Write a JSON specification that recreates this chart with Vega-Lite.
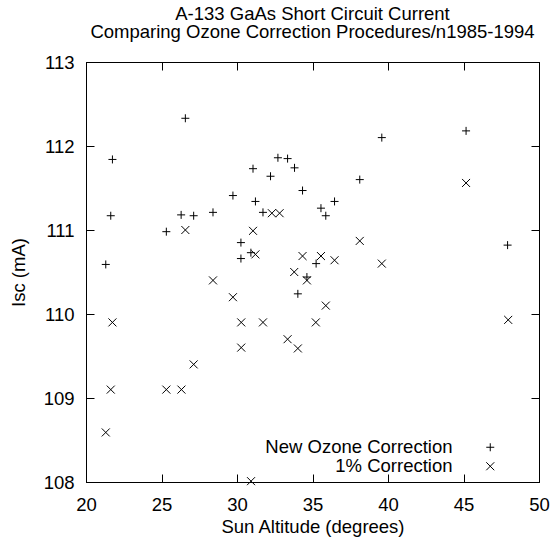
{
  "$schema": "https://vega.github.io/schema/vega-lite/v6.json",
  "width": 453,
  "height": 420,
  "autosize": "none",
  "padding": {"left": 86, "top": 62, "right": 15, "bottom": 57},
  "background": "white",
  "title": {
    "text": ["A-133 GaAs Short Circuit Current", "Comparing Ozone Correction Procedures/n1985-1994"],
    "font": "Liberation Sans",
    "fontSize": 18.5,
    "fontWeight": "normal",
    "color": "black",
    "anchor": "middle",
    "lineHeight": 18,
    "offset": 12
  },
  "config": {
    "view": {"stroke": "black", "strokeWidth": 1},
    "axis": {
      "labelFont": "Liberation Sans",
      "titleFont": "Liberation Sans",
      "labelFontSize": 18.5,
      "titleFontSize": 18.5,
      "titleFontWeight": "normal",
      "labelColor": "black",
      "titleColor": "black",
      "domainColor": "black",
      "tickColor": "black",
      "tickSize": -8,
      "grid": false
    },
    "legend": {
      "labelFont": "Liberation Sans",
      "labelFontSize": 18.5,
      "labelColor": "black",
      "labelLimit": 400
    }
  },
  "data": {
    "values": [
      {"alt": 21.31, "isc": 110.59, "series": "New Ozone Correction"},
      {"alt": 21.64, "isc": 111.17, "series": "New Ozone Correction"},
      {"alt": 21.75, "isc": 111.84, "series": "New Ozone Correction"},
      {"alt": 25.32, "isc": 110.98, "series": "New Ozone Correction"},
      {"alt": 26.30, "isc": 111.18, "series": "New Ozone Correction"},
      {"alt": 26.58, "isc": 112.33, "series": "New Ozone Correction"},
      {"alt": 27.13, "isc": 111.17, "series": "New Ozone Correction"},
      {"alt": 28.41, "isc": 111.21, "series": "New Ozone Correction"},
      {"alt": 29.73, "isc": 111.41, "series": "New Ozone Correction"},
      {"alt": 30.26, "isc": 110.85, "series": "New Ozone Correction"},
      {"alt": 30.26, "isc": 110.66, "series": "New Ozone Correction"},
      {"alt": 30.92, "isc": 110.73, "series": "New Ozone Correction"},
      {"alt": 31.06, "isc": 111.73, "series": "New Ozone Correction"},
      {"alt": 31.22, "isc": 111.34, "series": "New Ozone Correction"},
      {"alt": 31.72, "isc": 111.21, "series": "New Ozone Correction"},
      {"alt": 32.22, "isc": 111.64, "series": "New Ozone Correction"},
      {"alt": 32.71, "isc": 111.86, "series": "New Ozone Correction"},
      {"alt": 33.35, "isc": 111.85, "series": "New Ozone Correction"},
      {"alt": 33.81, "isc": 111.74, "series": "New Ozone Correction"},
      {"alt": 34.03, "isc": 110.24, "series": "New Ozone Correction"},
      {"alt": 34.34, "isc": 111.47, "series": "New Ozone Correction"},
      {"alt": 34.63, "isc": 110.44, "series": "New Ozone Correction"},
      {"alt": 35.24, "isc": 110.60, "series": "New Ozone Correction"},
      {"alt": 35.56, "isc": 111.26, "series": "New Ozone Correction"},
      {"alt": 35.88, "isc": 111.17, "series": "New Ozone Correction"},
      {"alt": 36.46, "isc": 111.34, "series": "New Ozone Correction"},
      {"alt": 38.13, "isc": 111.60, "series": "New Ozone Correction"},
      {"alt": 39.59, "isc": 112.10, "series": "New Ozone Correction"},
      {"alt": 45.17, "isc": 112.18, "series": "New Ozone Correction"},
      {"alt": 47.92, "isc": 110.82, "series": "New Ozone Correction"},
      {"alt": 21.31, "isc": 108.59, "series": "1% Correction"},
      {"alt": 21.64, "isc": 109.10, "series": "1% Correction"},
      {"alt": 21.75, "isc": 109.90, "series": "1% Correction"},
      {"alt": 25.32, "isc": 109.10, "series": "1% Correction"},
      {"alt": 26.32, "isc": 109.10, "series": "1% Correction"},
      {"alt": 26.58, "isc": 111.00, "series": "1% Correction"},
      {"alt": 27.13, "isc": 109.40, "series": "1% Correction"},
      {"alt": 28.41, "isc": 110.40, "series": "1% Correction"},
      {"alt": 29.73, "isc": 110.20, "series": "1% Correction"},
      {"alt": 30.28, "isc": 109.90, "series": "1% Correction"},
      {"alt": 30.28, "isc": 109.60, "series": "1% Correction"},
      {"alt": 30.93, "isc": 108.01, "series": "1% Correction"},
      {"alt": 31.06, "isc": 110.99, "series": "1% Correction"},
      {"alt": 31.22, "isc": 110.71, "series": "1% Correction"},
      {"alt": 31.72, "isc": 109.90, "series": "1% Correction"},
      {"alt": 32.31, "isc": 111.20, "series": "1% Correction"},
      {"alt": 32.82, "isc": 111.20, "series": "1% Correction"},
      {"alt": 33.35, "isc": 109.70, "series": "1% Correction"},
      {"alt": 33.79, "isc": 110.50, "series": "1% Correction"},
      {"alt": 34.03, "isc": 109.59, "series": "1% Correction"},
      {"alt": 34.34, "isc": 110.69, "series": "1% Correction"},
      {"alt": 34.63, "isc": 110.40, "series": "1% Correction"},
      {"alt": 35.22, "isc": 109.90, "series": "1% Correction"},
      {"alt": 35.56, "isc": 110.69, "series": "1% Correction"},
      {"alt": 35.88, "isc": 110.10, "series": "1% Correction"},
      {"alt": 36.46, "isc": 110.64, "series": "1% Correction"},
      {"alt": 38.13, "isc": 110.87, "series": "1% Correction"},
      {"alt": 39.59, "isc": 110.60, "series": "1% Correction"},
      {"alt": 45.17, "isc": 111.56, "series": "1% Correction"},
      {"alt": 47.96, "isc": 109.93, "series": "1% Correction"}
    ]
  },
  "layer": [
    {
      "mark": {"type": "point", "filled": false, "color": "black", "strokeWidth": 1, "size": 64, "opacity": 1},
      "encoding": {
        "x": {
          "field": "alt", "type": "quantitative",
          "scale": {"domain": [20, 50], "nice": false, "zero": false},
          "axis": {"orient": "bottom", "title": "Sun Altitude (degrees)", "values": [20, 25, 30, 35, 40, 45, 50], "labelPadding": 21, "titlePadding": 4, "labelFlush": false}
        },
        "y": {
          "field": "isc", "type": "quantitative",
          "scale": {"domain": [108, 113], "nice": false, "zero": false},
          "axis": {"orient": "left", "title": "Isc (mA)", "values": [108, 109, 110, 111, 112, 113], "format": "d", "labelPadding": 20, "titlePadding": 15, "labelFlush": false}
        },
        "shape": {
          "field": "series", "type": "nominal",
          "scale": {"domain": ["New Ozone Correction", "1% Correction"], "range": ["M-1,0L1,0M0,-1L0,1", "M-1,-1L1,1M-1,1L1,-1"]},
          "legend": {
            "title": null,
            "orient": "none",
            "legendX": 395,
            "legendY": 376,
            "padding": 0,
            "rowPadding": 0,
            "labelAlign": "right",
            "labelOffset": -47,
            "symbolSize": 64,
            "symbolStrokeColor": "black",
            "symbolFillColor": "transparent",
            "symbolStrokeWidth": 1
          }
        }
      }
    },
    {
      "mark": {"type": "point", "opacity": 0},
      "encoding": {
        "x": {
          "field": "alt", "type": "quantitative",
          "axis": {"orient": "top", "title": null, "labels": false, "values": [20, 25, 30, 35, 40, 45, 50]}
        },
        "y": {
          "field": "isc", "type": "quantitative",
          "axis": {"orient": "right", "title": null, "labels": false, "values": [108, 109, 110, 111, 112, 113]}
        }
      }
    }
  ],
  "resolve": {"axis": {"x": "independent", "y": "independent"}}
}
